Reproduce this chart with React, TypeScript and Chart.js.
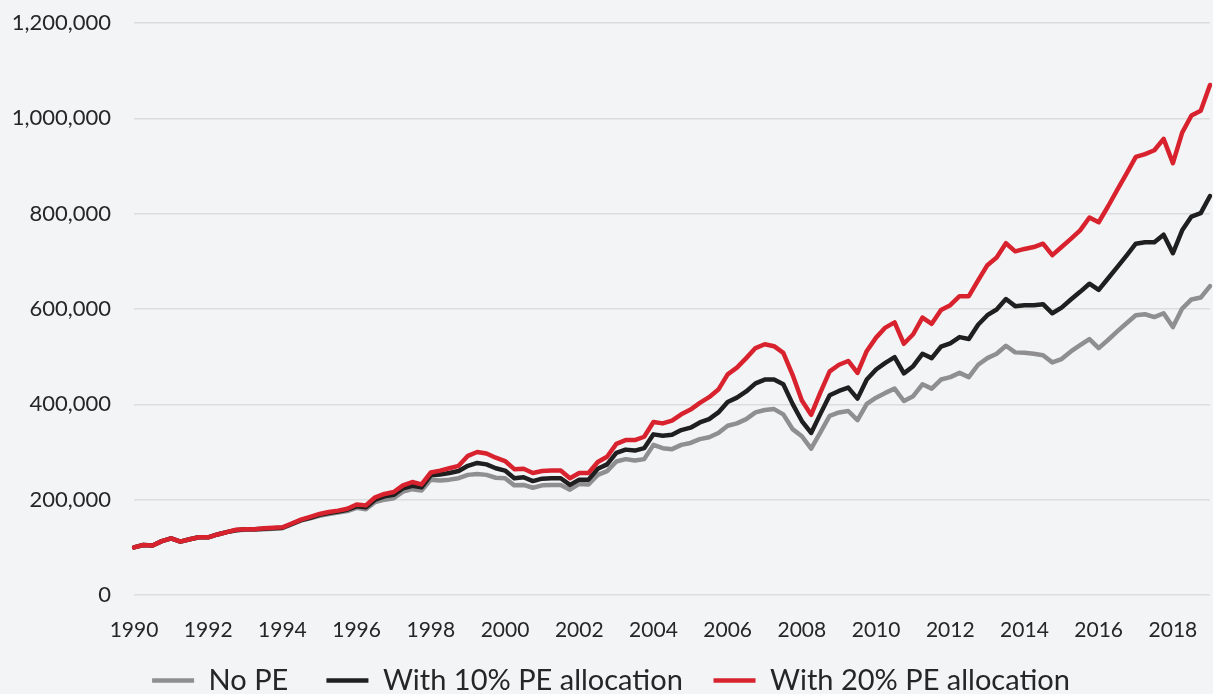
import { useEffect, useRef } from "react";
import { Chart, registerables } from "chart.js";

Chart.register(...registerables);

// Quarterly observations, 1990 Q1 .. 2019 Q1
const quarters: string[] = [];
for (let y = 1990; y <= 2019; y++) {
  for (let q = 1; q <= 4; q++) {
    if (y === 2019 && q > 1) break;
    quarters.push(`${y} Q${q}`);
  }
}

const xTickLabels = ["1990", "1992", "1994", "1996", "1998", "2000", "2002", "2004", "2006", "2008", "2010", "2012", "2014", "2016", "2018"];
const yTicks = [0, 200, 400, 600, 800, 1000, 1200]; // thousands

const seriesNames = ["No PE", "With 10% PE allocation", "With 20% PE allocation"];

// Portfolio value, thousands
const noPE = [
  100, 105, 104, 113,
  119, 112, 117, 121,
  121, 127, 132, 136,
  137, 137, 138, 139,
  140, 148, 156, 161,
  166, 170, 173, 176,
  183, 180, 195, 200,
  203, 217, 222, 219,
  242, 240, 242, 245,
  252, 254, 252, 246,
  245, 230, 231, 225,
  230, 231, 231, 221,
  233, 232, 252, 260,
  280, 285, 282, 285,
  315, 308, 306, 315,
  319, 327, 331, 340,
  355, 360, 369, 383,
  388, 390, 379, 348,
  333, 307, 341, 376,
  383, 386, 367, 401,
  414, 424, 433, 407,
  417, 442, 433, 452,
  457, 466, 457, 483,
  497, 506, 523, 509,
  508, 506, 503, 488,
  495, 511, 524, 537,
  518, 535, 553, 570,
  587, 589, 583, 591,
  562, 601, 620, 624,
  648,
];

const pe10 = [
  100, 105, 104, 113,
  119, 112, 117, 121,
  121, 127, 132, 136,
  138, 138, 139, 140,
  141, 149, 157, 162,
  168, 172, 175, 179,
  186, 184, 200, 207,
  210, 224, 229, 226,
  251, 253, 256, 260,
  271, 277, 274, 266,
  261, 245, 247, 239,
  244, 245, 245, 231,
  242, 242, 265, 274,
  298, 305, 303, 308,
  337, 334, 336, 346,
  351, 362, 369, 383,
  405, 414, 427, 444,
  452, 452, 442, 401,
  365, 340, 380, 419,
  428, 435, 412, 452,
  473, 487, 499, 465,
  480, 506, 497, 521,
  528, 541, 537, 567,
  587, 599, 621, 606,
  608, 608, 610, 591,
  603, 620, 636, 653,
  640, 664, 688, 712,
  737, 740, 740, 756,
  717, 765, 794, 801,
  837,
];

const pe20 = [
  100, 105, 104, 113,
  119, 112, 117, 121,
  121, 127, 132, 137,
  138, 138, 140, 141,
  142, 150, 158, 164,
  170, 174, 177, 181,
  190, 188, 205, 212,
  216, 230, 237, 232,
  257, 261, 266, 271,
  292, 300, 297, 288,
  281, 264, 265, 256,
  260, 261, 261, 245,
  256, 256, 279, 290,
  317, 325, 325, 332,
  363, 360, 366, 379,
  389, 403, 415, 431,
  463, 477, 497, 518,
  526, 522, 508, 462,
  408, 378, 425, 469,
  483, 491, 466, 512,
  540, 561, 572, 527,
  547, 582, 569, 598,
  608, 627, 627, 660,
  692, 708, 738, 721,
  726, 730, 737, 713,
  730, 747, 765, 792,
  782, 815, 850, 884,
  919, 925, 933, 957,
  906, 970, 1006, 1016,
  1070,
];

const colors = ["#8f8f91", "#1f1f1f", "#d8232f"];
const FONT = "Lato";
const TEXT = "#262626";
// spacing after each legend entry (legend gap)
const legendGap = ["     ", "    ", ""];

const fmt = (v: number) => String(Math.round(v * 1000)).replace(/\B(?=(\d{3})+(?!\d))/g, ",");

export default function App() {
  const ref = useRef<HTMLCanvasElement | null>(null);

  useEffect(() => {
    document.body.style.margin = "0";
    const series = [noPE, pe10, pe20];
    const chart = new Chart(ref.current as HTMLCanvasElement, {
      type: "line",
      data: {
        labels: quarters,
        datasets: series.map((d, i) => ({
          label: seriesNames[i],
          data: d,
          borderColor: colors[i],
          backgroundColor: colors[i],
          borderWidth: 4.5,
          pointRadius: 0,
          pointHoverRadius: 0,
          tension: 0,
          borderJoinStyle: "round" as const,
          borderCapStyle: "round" as const,
          pointStyle: "line" as const,
          order: 3 - i,
        })),
      },
      options: {
        animation: false,
        responsive: true,
        maintainAspectRatio: false,
        events: [],
        layout: { padding: { left: 12, right: 3, top: 22, bottom: 0 } },
        scales: {
          x: {
            type: "category",
            offset: false,
            grid: { display: false, drawTicks: false },
            border: { display: false },
            ticks: {
              autoSkip: false,
              maxRotation: 0,
              minRotation: 0,
              padding: 2,
              color: TEXT,
              font: { family: FONT, size: 21, lineHeight: "66px" },
              callback: function (this: any, value: any) {
                const lbl = String(this.getLabelForValue(value));
                const [yr, q] = lbl.split(" ");
                return q === "Q1" && xTickLabels.includes(yr) ? yr : "";
              },
            },
          },
          y: {
            min: yTicks[0],
            max: yTicks[yTicks.length - 1],
            grid: { color: "#dcdddc", lineWidth: 1.5, drawTicks: false },
            border: { display: false },
            afterBuildTicks: (s: any) => { s.ticks = yTicks.map((v) => ({ value: v })); },
            afterFit: (s: any) => { s.width = 122; },
            ticks: {
              padding: 23,
              color: TEXT,
              font: { family: FONT, size: 22, lineHeight: 0 },
              callback: (v: any) => fmt(Number(v)),
            },
          },
        },
        plugins: {
          tooltip: { enabled: false },
          legend: {
            position: "bottom",
            maxHeight: 29,
            labels: {
              usePointStyle: true,
              pointStyleWidth: 42,
              padding: 1,
              color: TEXT,
              font: { family: FONT, size: 29 },
              sort: (a: any, b: any) => a.datasetIndex - b.datasetIndex,
              generateLabels: (c: any) =>
                Chart.defaults.plugins.legend.labels
                  .generateLabels(c)
                  .map((it: any) => ({ ...it, text: it.text + legendGap[it.datasetIndex] })),
            },
          },
        },
      },
    });
    return () => chart.destroy();
  }, []);

  return (
    <div style={{ position: "absolute", left: 0, top: 0, width: 1213, height: 694, background: "#f3f4f6" }}>
      <canvas ref={ref} />
    </div>
  );
}
